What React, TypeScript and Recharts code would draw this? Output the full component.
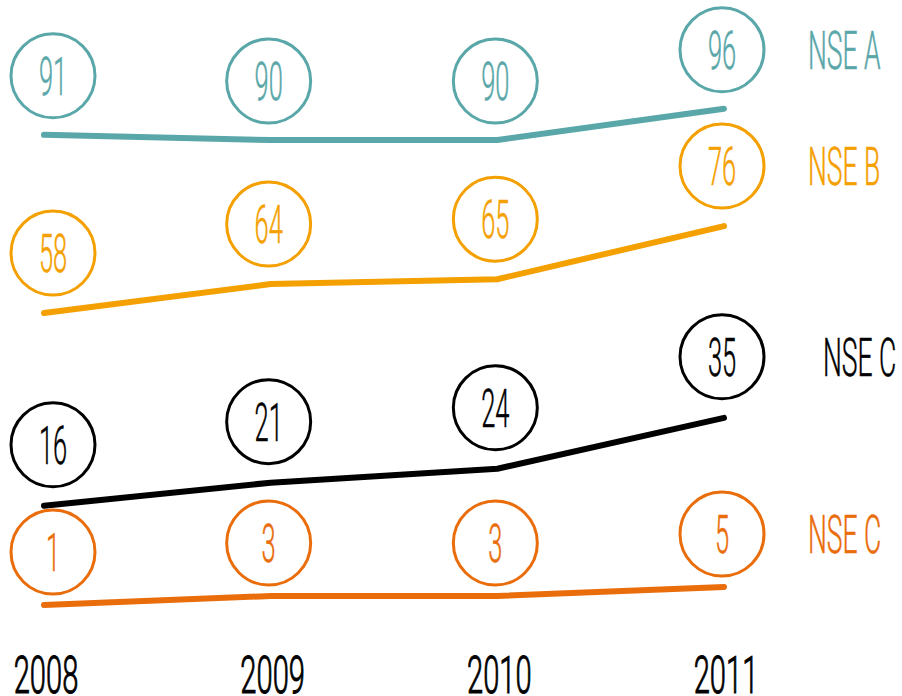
import React from 'react';
import { LineChart, Line, XAxis, YAxis, LabelList } from 'recharts';

const years = ['2008', '2009', '2010', '2011'];
const nseA = [91, 90, 90, 96];
const nseB = [58, 64, 65, 76];
const nseC = [16, 21, 24, 35];
const nseCLow = [1, 3, 3, 5];
const seriesNames = ['NSE A', 'NSE B', 'NSE C', 'NSE C'];

const data = years.map((year, i) => ({
  year,
  a: nseA[i],
  b: nseB[i],
  c: nseC[i],
  d: nseCLow[i],
}));

const FONT = 'Roboto, "Liberation Sans", sans-serif';

type SeriesStyle = {
  key: string;
  color: string;
  name: string;
  domain: [number, number];
  lift: number;
  nameDx: number;
};

const series: SeriesStyle[] = [
  { key: 'a', color: '#5aa7a9', name: seriesNames[0], domain: [-5.38, 116.93], lift: 59, nameDx: 84 },
  { key: 'b', color: '#f4a000', name: seriesNames[1], domain: [-8.87, 122.81], lift: 60, nameDx: 84 },
  { key: 'c', color: '#000000', name: seriesNames[2], domain: [-12.12, 125.25], lift: 61, nameDx: 99 },
  { key: 'd', color: '#ea6d0c', name: seriesNames[3], domain: [-5.89, 135.44], lift: 53, nameDx: 84 },
];

const CondensedText = ({ x, y, text, color, size, weight, anchor, sx, outline = 0 }: any) => (
  <text
    transform={`translate(${x},${y}) scale(${sx},1)`}
    textAnchor={anchor}
    fontSize={size}
    fontFamily={FONT}
    fontWeight={weight}
    fill={color}
    stroke={outline ? color : 'none'}
    strokeWidth={outline}
  >
    {text}
  </text>
);

const makeBubble = (s: SeriesStyle) => (props: any) => {
  const px = props.x ?? props.viewBox?.x;
  const py = props.y ?? props.viewBox?.y;
  const index = props.index;
  if (px == null || py == null) return null;
  const cx = px + (index === 0 ? 9 : -2);
  const cy = py - s.lift;
  return (
    <g>
      <circle cx={cx} cy={cy} r={42} fill="none" stroke={s.color} strokeWidth={3} />
      <CondensedText x={cx} y={cy + 19} text={String(props.value)} color={s.color} size={53} weight={300} anchor="middle" sx={0.48} outline={0.5} />
      {index === years.length - 1 ? (
        <CondensedText x={px + s.nameDx} y={cy + 19} text={s.name} color={s.color} size={53} weight={300} anchor="start" sx={0.5} outline={0.5} />
      ) : null}
    </g>
  );
};

const YearTick = (props: any) => {
  const { x, y, payload } = props;
  return <CondensedText x={x + 2} y={y + 57} text={payload.value} color="#000" size={52} weight={300} anchor="middle" sx={0.56} outline={1} />;
};

export default function App() {
  return (
    <div style={{ position: 'absolute', left: 0, top: 0, width: 902, height: 696, background: '#fff' }}>
      <LineChart width={902} height={696} data={data} margin={{ top: 0, right: 0, bottom: 0, left: 0 }}>
        <XAxis
          dataKey="year"
          axisLine={false}
          tickLine={false}
          tickSize={0}
          tickMargin={0}
          height={60}
          padding={{ left: 44, right: 178 }}
          tick={<YearTick />}
          interval={0}
        />
        {series.map((s) => (
          <YAxis key={s.key} yAxisId={s.key} hide width={0} type="number" domain={s.domain} allowDataOverflow />
        ))}
        {series.map((s) => (
          <Line
            key={s.key}
            yAxisId={s.key}
            dataKey={s.key}
            type="linear"
            stroke={s.color}
            strokeWidth={6}
            strokeLinecap="round"
            strokeLinejoin="round"
            dot={false}
            activeDot={false}
            isAnimationActive={false}
          >
            <LabelList dataKey={s.key} content={makeBubble(s)} />
          </Line>
        ))}
      </LineChart>
    </div>
  );
}
